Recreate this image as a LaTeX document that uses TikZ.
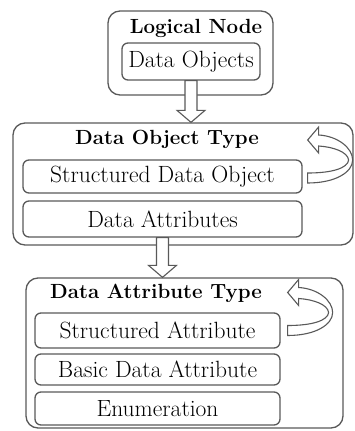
\documentclass[tikz,border=0pt]{standalone}
\usetikzlibrary{calc}

\tikzset{
  outerbox/.style={draw=black!65, line width=1.3pt, rounded corners=12pt, inner sep=0pt},
  innerbox/.style={draw=black!65, line width=1.3pt, rounded corners=6pt, inner sep=0pt,
    font=\fontsize{23.5}{26}\selectfont},
  boxtitle/.style={inner sep=0pt, font=\bfseries\fontsize{20.5}{24}\selectfont},
  bigarrow/.style={draw=black!65, line width=1.1pt, fill=white, line join=miter},
  loopback/.pic={
    \draw[bigarrow] (0,5) .. controls (28,5) and (45,-6) .. (45,-18)
      .. controls (45,-30) and (30,-42) .. (11,-43) -- (11,-51) -- (0,-38)
      -- (11,-25) -- (11,-32) .. controls (26,-31) and (40,-26) .. (41,-18)
      .. controls (40,-10) and (25,-5) .. (0,-5) -- cycle;
  }
}

% hollow block arrow pointing down, from one node to the next
\newcommand{\hollowdown}[2]{%
  \draw[bigarrow] let \p1=(#1.south), \p2=(#2.north) in
    (\x1-6pt,\y1) -- (\x1-6pt,\y2+12pt) -- (\x1-14pt,\y2+12pt) -- (\x1,\y2)
    -- (\x1+14pt,\y2+12pt) -- (\x1+6pt,\y2+12pt) -- (\x1+6pt,\y1) -- cycle;}

\begin{document}
\begin{tikzpicture}[x=1pt, y=-1pt]
  \useasboundingbox (0,0) rectangle (354,431);

  % logical node
  \node[outerbox, minimum width=165pt, minimum height=84pt] (ln) at (190.5,53) {};
  \node[boxtitle] (lntitle) at (196,28) {Logical Node};
  \node[innerbox, minimum width=138pt, minimum height=37pt] (dobj) at (191,61.5) {Data Objects};

  % data object type
  \node[outerbox, minimum width=340pt, minimum height=122pt] (dot) at (183,184) {};
  \node[boxtitle] (dottitle) at (167,139) {Data Object Type};
  \node[innerbox, minimum width=279pt, minimum height=33pt] (sdo) at (162.5,176.5) {Structured Data Object};
  \node[innerbox, minimum width=279pt, minimum height=36pt] (da) at (162.5,219) {Data Attributes};

  % data attribute type
  \node[outerbox, minimum width=317pt, minimum height=150pt] (dat) at (184.5,353) {};
  \node[boxtitle] (dattitle) at (156,293) {Data Attribute Type};
  \node[innerbox, minimum width=245pt, minimum height=35pt] (sa) at (157.5,330.5) {Structured Attribute};
  \node[innerbox, minimum width=245pt, minimum height=31pt] (bda) at (157.5,369.5) {Basic Data Attribute};
  \node[innerbox, minimum width=245pt, minimum height=33pt] (en) at (157.5,408.5) {Enumeration};

  % connectors
  \hollowdown{dobj}{dot}
  \hollowdown{da}{dat}
  \pic at ($(sdo.east)+(5,1.5)$) {loopback};
  \pic at ($(sa.east)+(7,0)$) {loopback};
\end{tikzpicture}
\end{document}
